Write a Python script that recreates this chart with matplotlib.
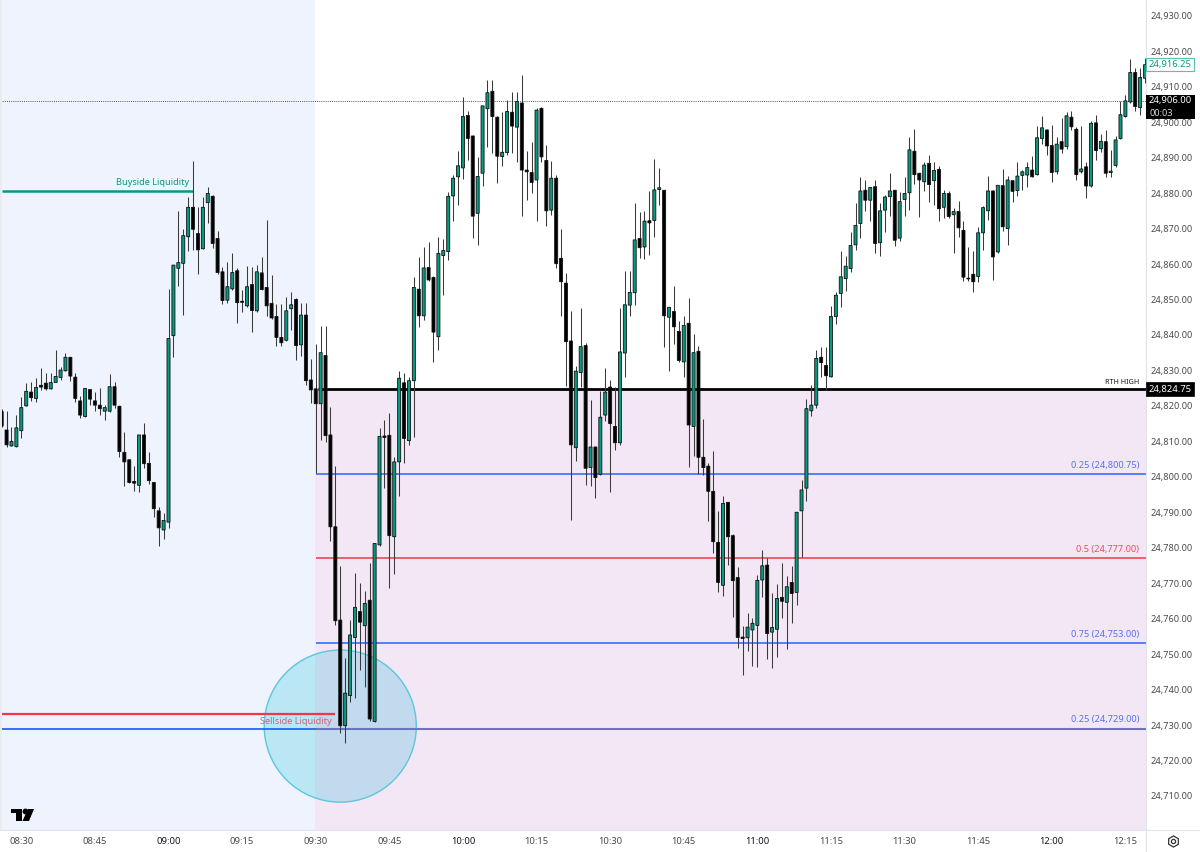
import numpy as np
import matplotlib
matplotlib.use('Agg')
import matplotlib.pyplot as plt
from matplotlib.patches import Ellipse, Polygon, Rectangle
from matplotlib.lines import Line2D

plt.rcParams['font.family'] = ['Noto Sans', 'DejaVu Sans']

# candle values are points above/below this level
base_price = 24800

highs = [
    19.0, 18.6, 14.1, 17.4, 22.4, 26.4, 26.6, 27.9, 30.6, 29.4,
    29.4, 35.8, 30.9, 35.0, 33.9, 29.2, 22.9, 25.1, 24.7, 23.9,
    25.0, 20.2, 28.9, 26.6, 20.0, 12.7, 4.9, 3.0, 11.8, 15.1,
    7.0, -1.5, -8.6, -10.3, 52.9, 59.7, 75.0, 69.8, 79.0, 89.0,
    76.0, 79.0, 81.8, 79.5, 69.3, 59.2, 60.7, 63.2, 59.0, 52.6,
    59.4, 59.2, 59.6, 61.9, 72.3, 56.8, 48.6, 48.6, 50.7, 52.0,
    50.3, 49.0, 48.9, 33.1, 37.4, 42.6, 42.5, 19.6, 3.0, -25.2,
    -51.0, -40.4, -27.0, -30.0, -32.2, -24.4, -18.6, 13.7, 16.0, 17.9,
    5.5, 29.8, 29.4, 28.2, 56.2, 61.9, 64.7, 66.3, 56.7, 67.7,
    67.0, 80.2, 85.1, 91.9, 107.0, 103.2, 96.4, 90.3, 104.6, 111.9,
    111.9, 101.6, 102.8, 106.2, 108.6, 108.6, 113.3, 91.9, 94.3, 103.9,
    104.4, 93.6, 89.0, 85.1, 69.8, 57.4, 46.8, 31.2, 47.7, 37.6,
    21.6, 8.6, 24.3, 30.6, 27.3, 25.4, 47.7, 58.1, 58.1, 77.1,
    74.6, 75.0, 80.6, 89.5, 87.2, 80.8, 48.0, 53.7, 44.0, 45.4,
    50.4, 40.4, 37.0, 16.2, 4.0, 7.4, -9.6, -5.3, -7.1, -16.2,
    -25.5, -42.1, -38.5, -39.7, -27.7, -20.6, -23.0, -32.9, -30.2, -24.4,
    -28.0, -25.1, -10.0, -0.9, 22.0, 25.9, 35.8, 36.7, 36.7, 48.2,
    52.2, 63.6, 62.2, 69.1, 77.1, 84.6, 83.6, 81.7, 83.7, 77.1,
    79.4, 85.8, 80.9, 80.2, 84.6, 95.7, 98.0, 85.8, 88.7, 90.8,
    88.8, 87.7, 81.0, 80.6, 75.7, 77.8, 72.2, 64.7, 63.6, 70.5,
    76.4, 84.8, 80.8, 82.3, 86.8, 84.8, 83.7, 88.8, 86.5, 88.8,
    90.4, 98.9, 101.6, 98.2, 99.1, 95.7, 101.1, 102.8, 103.2, 98.7,
    98.9, 88.8, 100.2, 102.0, 96.8, 97.8, 92.2, 96.1, 106.0, 107.6,
    117.7, 115.2, 115.2, 118.0,
]
lows = [
    14.0, 8.3, 8.7, 8.3, 10.8, 20.0, 21.5, 21.2, 24.5, 24.5,
    24.7, 26.6, 27.3, 29.9, 27.0, 21.2, 16.7, 16.9, 20.2, 18.5,
    17.4, 16.0, 18.4, 19.3, 5.7, -2.5, -1.7, -4.0, -4.2, 2.4,
    -2.1, -11.2, -19.4, -17.6, -14.4, 33.9, 53.9, 45.6, 63.8, 64.0,
    57.1, 64.2, 71.5, 64.6, 57.1, 48.6, 49.1, 52.6, 43.5, 46.6,
    48.0, 40.8, 46.6, 52.6, 45.4, 44.5, 37.0, 37.0, 38.4, 41.4,
    32.9, 34.2, 25.9, 20.9, 1.0, 10.4, 9.9, -18.0, -41.8, -72.2,
    -75.2, -63.4, -62.5, -54.5, -59.2, -69.0, -69.2, -19.4, -3.2, -31.3,
    -27.5, -5.3, 3.8, 9.0, 11.3, 42.3, 44.2, 55.3, 32.4, 35.8,
    51.4, 61.1, 72.2, 76.6, 84.0, 89.2, 67.2, 65.4, 82.0, 93.1,
    91.4, 82.9, 87.6, 90.8, 91.4, 88.7, 73.4, 78.0, 80.1, 72.0,
    88.8, 70.8, 73.8, 59.0, 45.4, 25.7, -12.2, 4.5, 25.4, -2.3,
    -2.5, -5.9, 0.5, 15.8, -4.4, 7.6, 9.0, 28.2, 45.4, 48.4,
    61.6, 61.4, 62.5, 67.5, 76.6, 36.5, 29.9, 37.4, 32.5, 28.0,
    2.8, 5.9, 0.8, 0.5, -12.6, -21.4, -32.6, -33.6, -24.9, -39.4,
    -48.3, -55.9, -49.0, -53.4, -53.6, -33.8, -51.5, -53.9, -50.7, -39.7,
    -48.6, -41.1, -36.2, -22.5, -6.8, 17.2, 19.3, 28.0, 24.6, 28.0,
    43.0, 47.8, 52.4, 57.8, 64.0, 67.2, 75.0, 72.1, 63.2, 62.2,
    69.1, 73.4, 65.1, 66.6, 73.5, 75.2, 82.6, 73.2, 80.6, 77.6,
    76.6, 72.1, 73.0, 73.0, 63.2, 67.7, 55.2, 55.2, 52.0, 54.8,
    64.0, 72.4, 55.5, 63.0, 69.4, 65.4, 77.6, 79.2, 80.8, 81.8,
    84.4, 85.0, 93.8, 90.8, 83.0, 85.4, 91.4, 92.5, 97.8, 83.8,
    85.8, 78.7, 81.6, 89.2, 91.6, 84.4, 84.6, 87.4, 95.2, 101.4,
    105.5, 103.2, 102.0, 111.0,
]
opens = [
    18.4, 13.2, 8.7, 8.5, 13.0, 20.0, 23.9, 22.1, 25.8, 26.4,
    24.8, 26.6, 28.0, 29.9, 33.7, 28.1, 21.4, 17.0, 24.6, 21.4,
    20.2, 18.5, 18.5, 25.4, 19.9, 6.9, 4.8, -1.3, -2.4, 11.8,
    3.8, -1.6, -9.6, -15.0, -12.8, 39.8, 58.8, 60.2, 67.7, 76.0,
    68.6, 64.3, 77.3, 79.1, 67.2, 57.8, 49.8, 53.0, 58.1, 49.5,
    48.2, 54.2, 46.8, 57.5, 53.4, 48.9, 45.2, 39.3, 38.5, 47.4,
    50.0, 37.2, 45.6, 27.3, 24.8, 20.6, 34.2, 11.8, -14.1, -40.4,
    -70.2, -61.7, -45.3, -38.0, -42.0, -34.8, -69.0, -19.2, 11.5, 11.7,
    -16.9, 4.2, 26.5, 10.2, 27.1, 52.9, 45.4, 59.0, 56.2, 39.5,
    62.4, 63.5, 79.2, 84.6, 87.1, 101.9, 96.1, 74.3, 85.6, 103.8,
    108.7, 101.4, 90.3, 91.4, 102.8, 98.6, 105.4, 86.5, 85.8, 83.7,
    103.9, 89.2, 75.2, 84.2, 61.6, 54.6, 38.3, 8.2, 29.4, 37.0,
    2.6, 8.4, 0.7, 17.4, 25.3, 14.2, 9.6, 34.9, 48.4, 51.9,
    67.2, 64.8, 72.2, 72.3, 81.0, 80.8, 45.0, 46.6, 41.0, 32.4,
    43.3, 14.2, 35.4, 5.5, 3.0, -4.1, -18.5, -30.6, -7.2, -16.6,
    -28.4, -45.2, -45.4, -43.2, -41.9, -29.1, -24.9, -43.8, -43.0, -34.0,
    -35.4, -29.8, -32.6, -9.6, -3.2, 18.6, 20.2, 33.7, 31.4, 28.2,
    45.2, 51.7, 55.9, 58.7, 65.4, 71.4, 80.8, 78.0, 81.8, 66.0,
    75.2, 79.0, 80.8, 67.3, 78.2, 80.1, 91.8, 85.6, 83.2, 88.4,
    83.5, 86.7, 76.0, 79.9, 73.9, 74.8, 69.5, 56.0, 57.1, 56.5,
    68.8, 75.0, 80.6, 63.4, 82.1, 70.0, 83.5, 80.7, 85.0, 85.1,
    86.5, 85.2, 95.4, 97.8, 93.4, 86.0, 94.5, 93.1, 101.4, 98.0,
    86.0, 87.4, 82.0, 99.8, 92.5, 94.5, 85.8, 87.8, 95.4, 101.6,
    105.7, 114.0, 104.1, 112.4,
]
closes = [
    14.3, 9.0, 10.0, 13.8, 19.5, 24.1, 22.3, 25.2, 25.3, 24.8,
    26.6, 28.3, 30.1, 33.7, 28.4, 22.1, 17.4, 24.9, 21.9, 20.2,
    19.2, 19.5, 25.4, 20.2, 7.1, 4.2, -1.6, -1.8, 11.8, 3.7,
    -1.1, -9.0, -14.4, -12.3, 39.0, 59.7, 60.4, 68.0, 76.0, 69.8,
    64.0, 76.0, 79.9, 65.8, 57.6, 49.7, 53.6, 57.6, 49.1, 49.2,
    53.6, 46.9, 57.8, 52.8, 48.2, 44.8, 39.3, 37.8, 46.8, 48.5,
    37.0, 45.6, 27.1, 24.5, 20.6, 35.0, 11.6, -14.1, -40.6, -70.2,
    -61.0, -44.6, -36.8, -41.0, -35.7, -68.3, -18.8, 11.4, 11.1, -16.6,
    4.2, 27.8, 10.8, 27.1, 53.4, 45.4, 58.9, 55.5, 40.8, 63.0,
    63.8, 79.1, 84.2, 87.7, 101.6, 95.4, 73.5, 84.7, 104.6, 108.3,
    101.6, 90.4, 91.5, 103.0, 98.9, 105.8, 86.5, 86.0, 83.0, 103.4,
    90.2, 75.0, 84.2, 60.1, 55.0, 38.1, 9.0, 29.8, 36.7, 2.4,
    8.4, -0.2, 16.8, 23.9, 15.0, 9.6, 35.2, 48.5, 52.0, 66.8,
    64.6, 72.1, 71.6, 80.9, 81.5, 45.4, 47.8, 42.3, 32.8, 42.7,
    14.6, 35.0, 5.5, 2.6, -4.1, -18.3, -29.8, -7.5, -16.9, -29.3,
    -45.3, -45.6, -42.4, -41.3, -29.2, -25.1, -44.2, -42.5, -34.3, -35.1,
    -31.0, -32.9, -10.0, -3.7, 19.2, 20.2, 33.4, 32.2, 28.5, 45.2,
    51.2, 56.4, 59.4, 65.2, 70.9, 80.6, 78.0, 81.6, 65.8, 75.0,
    78.9, 80.6, 66.7, 77.6, 79.9, 92.2, 85.2, 83.7, 87.9, 82.4,
    86.4, 75.6, 79.9, 73.4, 74.8, 70.2, 56.3, 55.8, 55.0, 68.8,
    75.9, 80.6, 62.0, 82.2, 70.5, 83.7, 80.5, 84.8, 86.0, 87.2,
    84.6, 95.6, 98.4, 93.3, 85.8, 93.8, 92.4, 101.8, 98.7, 85.2,
    86.8, 82.0, 99.7, 92.0, 94.6, 85.6, 86.2, 95.0, 102.1, 106.0,
    114.0, 104.4, 112.6, 116.2,
]

# minutes after 08:30 of the first candle
first_minute = -4

time_ticks = [0, 15, 30, 45, 60, 75, 90, 105, 120, 135, 150, 165, 180, 195, 210, 225]
time_labels = ['08:30', '08:45', '09:00', '09:15', '09:30', '09:45', '10:00', '10:15',
               '10:30', '10:45', '11:00', '11:15', '11:30', '11:45', '12:00', '12:15']
price_ticks = list(range(24710, 24940, 10))

rth_high = 24824.75
fib_levels = [24800.75, 24777.00, 24753.00, 24729.00]
fib_labels = ['0.25 (24,800.75)', '0.5 (24,777.00)', '0.75 (24,753.00)', '0.25 (24,729.00)']
fib_colors = ['#2962ff', '#f23645', '#2962ff', '#6f73bb']
buyside = 24880.7
sellside = 24733.1
sellside_blue = 24729.0
last_price = 24906.0
last_close = 24916.25

GREEN = '#089981'
x = first_minute + np.arange(len(opens))
o = base_price + np.array(opens)
h = base_price + np.array(highs)
l = base_price + np.array(lows)
c = base_price + np.array(closes)


def px(xp, yp):
    return xp / 1200, 1 - yp / 852


fig = plt.figure(figsize=(12, 8.52), dpi=100, facecolor='white')
ax = fig.add_axes([0, 22 / 852, 1146 / 1200, 830 / 852], facecolor='white')
ax.set_xlim(-4.34, 229.2)
ax.set_ylim(24700.4, 24934.45)

# session backgrounds, the circle sits between the two
ax.axvspan(-4.34, 59.85, color='#eff3fe', lw=0, zorder=0)
ax.add_patch(Ellipse((65, 24729.7), 31, 42.9, facecolor='#45cee3', alpha=0.3, lw=0, zorder=0.5))
ax.add_patch(Rectangle((59.85, 24700.4), 170, rth_high - 24700.4, facecolor='#a33fbc', alpha=0.12, lw=0, zorder=0.7))
ax.add_patch(Ellipse((65, 24729.7), 31, 42.9, facecolor='none', edgecolor='#5cc6de', lw=1, zorder=1.1))

# levels
ax.hlines(last_price, -4.34, 229.2, color='#555555', lw=0.7, linestyles=(0, (1, 1.2)), zorder=2)
ax.hlines(buyside, -4, 35, color=GREEN, lw=1.8, zorder=2)
ax.hlines(sellside, -4, 64, color='#f23645', lw=1.6, zorder=2)
ax.hlines(sellside_blue, -4, 60, color='#2962ff', lw=1.3, zorder=2)
ax.hlines(rth_high, 60.5, 229.2, color='#000000', lw=2, zorder=2)
for level, color in zip(fib_levels, fib_colors):
    ax.hlines(level, 60, 229.2, color=color, lw=1.5 if level == sellside_blue else 1.1, zorder=2)

# candles, no snapping so the spacing stays even
ax.vlines(x, l, h, color='#3a3a3a', lw=0.75, zorder=3)
up = c >= o
body_colors = [GREEN if u else '#000000' for u in up]
bars = ax.bar(x, np.abs(c - o), bottom=np.minimum(o, c), width=0.62, color=body_colors,
              edgecolor='#111111', linewidth=0.6, zorder=4)
for bar in bars:
    bar.set_snap(False)

# labels on the drawings
label_size = 6.6
ax.text(34.2, 24882.9, 'Buyside Liquidity', color=GREEN, fontsize=label_size, ha='right', va='center', zorder=5)
ax.text(63.3, 24731.1, 'Sellside Liquidity', color='#d2607c', fontsize=label_size, ha='right', va='center', zorder=5)
ax.text(227.9, 24826.6, 'RTH HIGH', color='#131722', fontsize=5.2, fontweight='medium', ha='right', va='center', zorder=5)
label_colors = ['#5472f0', '#ef4a5f', '#5472f0', '#5472f0']
for level, text, color in zip(fib_levels, fib_labels, label_colors):
    ax.text(227.8, level + 2.5, text, color=color, fontsize=label_size, ha='right', va='center', zorder=5)

# axes
for side in ['top', 'left']:
    ax.spines[side].set_visible(False)
for side in ['right', 'bottom']:
    ax.spines[side].set_color('#e0e3eb')
    ax.spines[side].set_linewidth(0.8)
ax.yaxis.tick_right()
ax.set_yticks(price_ticks)
ax.set_yticklabels([f'{p:,.2f}' for p in price_ticks], fontsize=6.6, color='#4a4a4a')
ax.set_xticks(time_ticks)
ax.set_xticklabels(time_labels, fontsize=6.8, color='#4a4a4a')
for tick, label in zip(ax.get_xticklabels(), time_labels):
    if label.endswith(':00'):
        tick.set_color('#131722')
ax.tick_params(axis='both', length=0, pad=5)
ax.tick_params(axis='y', pad=3.5)

# price tags on the scale
tag_x = 1.0 + 24 / 1146
yt = ax.get_yaxis_transform()
ax.text(tag_x, last_close, '24,916.25', transform=yt, ha='center', va='center', fontsize=6.8, color=GREEN,
        bbox=dict(boxstyle='square,pad=0.22', facecolor='white', edgecolor='#5dbfae', lw=0.8), clip_on=False, zorder=6)
ax.text(tag_x, rth_high, '24,824.75', transform=yt, ha='center', va='center', fontsize=6.8, color='white',
        fontweight='bold', bbox=dict(boxstyle='square,pad=0.22', facecolor='black', edgecolor='black', lw=0.5),
        clip_on=False, zorder=6)
# last price tag, two lines of different weight
tag_top = last_price + 1.7
tag_bottom = last_price - 5.1
ax.add_patch(Rectangle((1.0, tag_bottom), 49 / 1146, tag_top - tag_bottom, transform=yt, facecolor='black', lw=0,
                       clip_on=False, zorder=6))
ax.text(tag_x, last_price, '24,906.00', transform=yt, ha='center', va='center', fontsize=6.8, color='white',
        fontweight='bold', clip_on=False, zorder=7)
ax.text(1.0 + 4 / 1146, last_price - 3.5, '00:03', transform=yt, ha='left', va='center', fontsize=6.6, color='#d8d8d8',
        clip_on=False, zorder=7)

# left edge strip
x0, y0 = px(0, 830)
fig.add_artist(Rectangle((x0, y0), 2 / 1200, 830 / 852, transform=fig.transFigure, color='#e9ecef', lw=0))

# logo
logo = [
    [(11, 809), (22, 809), (22, 821), (16, 821), (16, 813), (11, 813)],
    [(28, 809), (34, 809), (29, 821), (22.5, 821)],
]
for shape in logo:
    fig.add_artist(Polygon([px(*p) for p in shape], closed=True, transform=fig.transFigure, color='black', lw=0))
fig.add_artist(Line2D([px(25, 811)[0]], [px(25, 811)[1]], marker='o', ms=3.2, color='black', lw=0,
                      transform=fig.transFigure))

# settings icon
ix, iy = px(1173, 841)
fig.add_artist(Line2D([ix], [iy], marker='h', ms=8, mfc='none', mec='#333333', mew=0.9, lw=0, transform=fig.transFigure))
fig.add_artist(Line2D([ix], [iy], marker='o', ms=3, mfc='none', mec='#333333', mew=0.9, lw=0, transform=fig.transFigure))

# scale separators below and right of the plot
fig.add_artist(Line2D([1146 / 1200, 1146 / 1200], [0, 22 / 852], color='#e0e3eb', lw=0.8, transform=fig.transFigure))
fig.add_artist(Line2D([1146 / 1200, 1], [22 / 852, 22 / 852], color='#e0e3eb', lw=0.8, transform=fig.transFigure))

fig.savefig('out.png', dpi=100)
